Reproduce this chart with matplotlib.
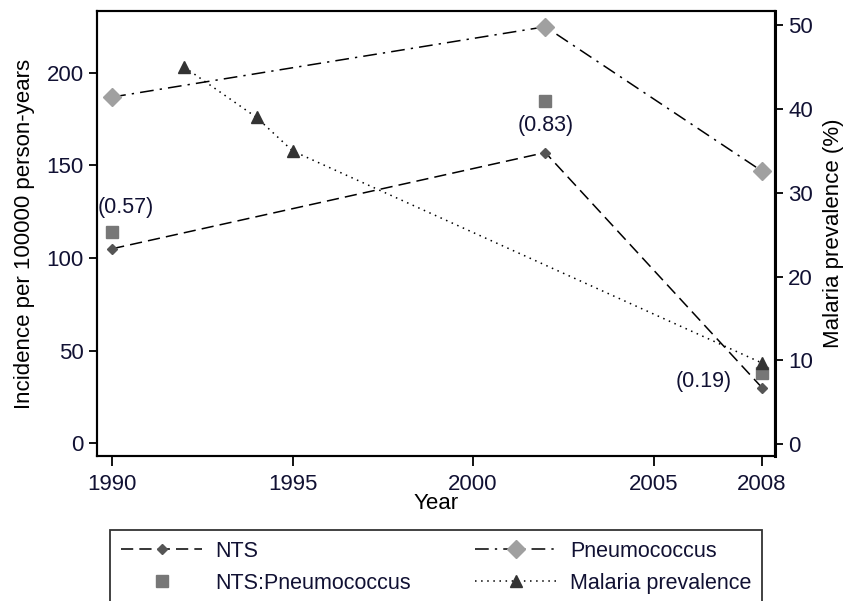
import matplotlib.pyplot as plt
import numpy as np

plt.rcParams['font.family'] = ['Liberation Sans', 'DejaVu Sans']

# data
years = [1990, 2002, 2008]
nts = [105, 157, 30]
pneumo = [187, 225, 147]
ratio_vals = [114, 185, 38]
ratio_labels = ["(0.57)", "(0.83)", "(0.19)"]
malaria_years = [1992, 1994, 1995, 2008]
malaria = [45, 39, 35, 9.7]

x_ticks = [1990, 1995, 2000, 2005, 2008]
left_ticks = [0, 50, 100, 150, 200]
right_ticks = [0, 10, 20, 30, 40, 50]

fig = plt.figure(figsize=(8.45, 6.01), dpi=100)
ax = fig.add_axes([0.1148, 0.2413, 0.8022, 0.7404])
ax2 = ax.twinx()

l1, = ax.plot(years, nts, color='black', lw=1.1, dashes=(8, 4),
              marker='D', ms=5, mfc='#555555', mec='#555555', label='NTS')
l2, = ax.plot(years, pneumo, color='black', lw=1.1, dashes=(9, 4, 1.5, 4),
              marker='D', ms=9, mfc='#a0a0a0', mec='#a0a0a0', label='Pneumococcus')
l3, = ax.plot(years, ratio_vals, ls='none', marker='s', ms=9,
              mfc='#777777', mec='#777777', label='NTS:Pneumococcus')
l4, = ax2.plot(malaria_years, malaria, color='black', lw=1.1, dashes=(1, 3),
               marker='^', ms=8, mfc='#333333', mec='#333333', label='Malaria prevalence')

# ratio annotations
offsets = [(10, 18), (0, -18), (-42, -6)]
for yr, v, lab, off in zip(years, ratio_vals, ratio_labels, offsets):
    ax.annotate(lab, (yr, v), xytext=off, textcoords='offset points',
                ha='center', va='center', fontsize=15.5, color='#111133')

ax.set_xlim(1989.58, 2008.36)
ax.set_ylim(-7, 233.5)
ax2.set_ylim(-1.4, 51.7)

ax.set_xticks(x_ticks)
ax.set_yticks(left_ticks)
ax2.set_yticks(right_ticks)

for a in (ax, ax2):
    a.tick_params(labelsize=16, labelcolor='#111133', width=1.3, length=6)
    for s in a.spines.values():
        s.set_linewidth(1.5)
ax.tick_params(axis='x', length=7, pad=6)
ax2.spines['right'].set_linewidth(2.2)

ax.set_ylabel('Incidence per 100000 person-years', fontsize=16, labelpad=8)
ax2.set_ylabel('Malaria prevalence (%)', fontsize=16, labelpad=7)
ax.set_xlabel('Year', fontsize=16)
ax.xaxis.set_label_coords(0.5, -0.083)

leg = fig.legend([l1, l3, l2, l4],
                 ['NTS', 'NTS:Pneumococcus', 'Pneumococcus', 'Malaria prevalence'],
                 ncol=2, loc='upper left', mode='expand',
                 bbox_to_anchor=(0.130, -0.5, 0.772, 0.618), borderaxespad=0,
                 fontsize=15.5, handlelength=3.8, handletextpad=0.6,
                 labelspacing=0.5, borderpad=0.5,
                 frameon=True, fancybox=False, edgecolor='black')
leg.get_frame().set_linewidth(1.3)
for t in leg.get_texts():
    t.set_color('#111133')

fig.savefig('out.png', dpi=100)
